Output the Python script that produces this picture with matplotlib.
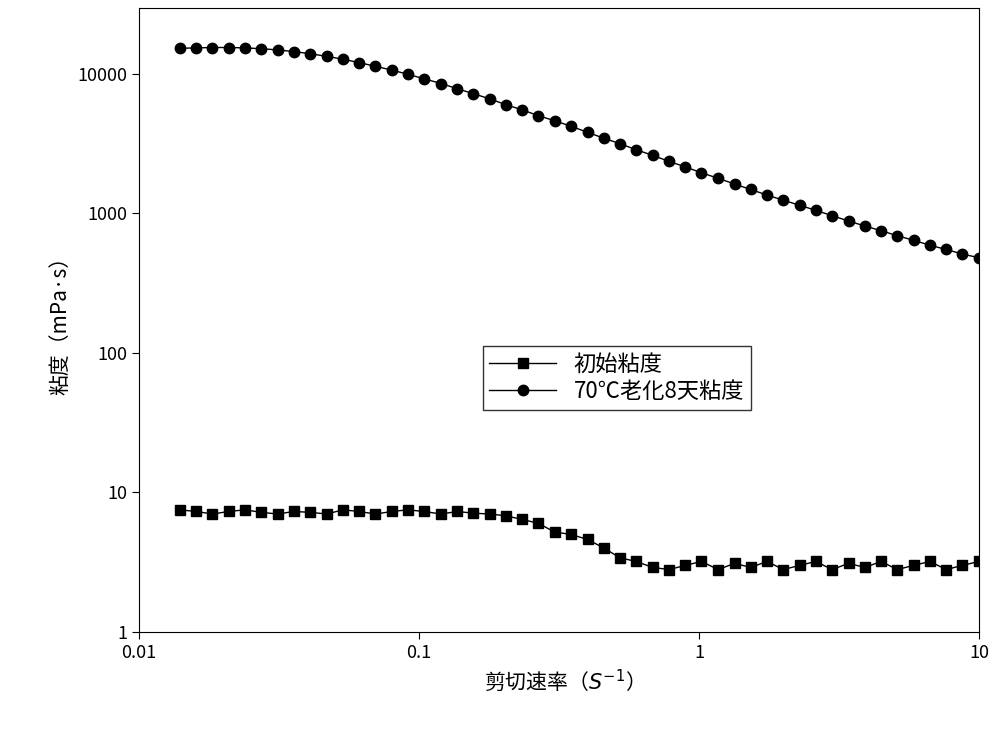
import matplotlib
matplotlib.use("Agg")
import matplotlib.pyplot as plt
from matplotlib import font_manager as fm
from matplotlib.ticker import FixedLocator, NullLocator

cjk = None
for f in fm.findSystemFonts():
    if "CJK" in f and ("SC" in f or "Regular" in f or f.endswith(".ttc")):
        try:
            fm.fontManager.addfont(f)
            name = fm.FontProperties(fname=f).get_name()
            if cjk is None or "SC" in name:
                cjk = name
        except Exception:
            pass
plt.rcParams["font.family"] = [cjk or "Noto Sans CJK SC", "DejaVu Sans"]
plt.rcParams["mathtext.fontset"] = "dejavusans"

shear_rate = [0.0140, 0.0160, 0.0183, 0.0209, 0.0239, 0.0273, 0.0313, 0.0357, 0.0409, 0.0468,
              0.0535, 0.0611, 0.0699, 0.0800, 0.0914, 0.104, 0.120, 0.137, 0.156, 0.179,
              0.204, 0.234, 0.267, 0.305, 0.349, 0.400, 0.457, 0.522, 0.597, 0.683,
              0.782, 0.893, 1.02, 1.17, 1.34, 1.53, 1.75, 2.00, 2.29, 2.61,
              2.99, 3.42, 3.91, 4.47, 5.11, 5.84, 6.68, 7.64, 8.73, 10.0]
initial_visc = [7.5, 7.3, 7.0, 7.3, 7.5, 7.2, 7.0, 7.3, 7.2, 7.0,
                7.5, 7.3, 7.0, 7.3, 7.5, 7.3, 7.0, 7.3, 7.1, 7.0,
                6.8, 6.4, 6.0, 5.2, 5.0, 4.6, 4.0, 3.4, 3.2, 2.9,
                2.8, 3.0, 3.2, 2.8, 3.1, 2.9, 3.2, 2.8, 3.0, 3.2,
                2.8, 3.1, 2.9, 3.2, 2.8, 3.0, 3.2, 2.8, 3.0, 3.2]
aged_visc = [15200, 15300, 15400, 15400, 15300, 15100, 14800, 14400, 13900, 13300,
             12700, 12000, 11300, 10600, 9900, 9200, 8500, 7800, 7200, 6600,
             6000, 5500, 5000, 4600, 4200, 3800, 3450, 3150, 2850, 2600,
             2350, 2150, 1950, 1780, 1620, 1480, 1350, 1240, 1140, 1050,
             960, 880, 810, 750, 690, 640, 590, 550, 510, 480]
labels = ["初始粘度", "70℃老化8天粘度"]
xticks = [0.01, 0.1, 1, 10]
xticklabels = ["0.01", "0.1", "1", "10"]
yticks = [1, 10, 100, 1000, 10000]
yticklabels = ["1", "10", "100", "1000", "10000"]

fig = plt.figure(figsize=(10, 7.34), dpi=100)
ax = fig.add_axes([0.139, 0.139, 0.840, 0.850])
ax.plot(shear_rate, initial_visc, "-s", color="black", lw=1, ms=7, label=labels[0])
ax.plot(shear_rate, aged_visc, "-o", color="black", lw=1, ms=7.5, label=labels[1])
ax.set_xscale("log"); ax.set_yscale("log")
ax.set_xlim(0.01, 10); ax.set_ylim(1, 10**4.47)
ax.xaxis.set_major_locator(FixedLocator(xticks)); ax.set_xticklabels(xticklabels)
ax.yaxis.set_major_locator(FixedLocator(yticks)); ax.set_yticklabels(yticklabels)
ax.xaxis.set_minor_locator(NullLocator()); ax.yaxis.set_minor_locator(NullLocator())
ax.tick_params(labelsize=13, direction="out", length=5)
ax.set_xlabel("剪切速率（$S^{-1}$）", fontsize=15)
ax.set_ylabel("粘度（mPa·s）", fontsize=15)
ax.legend(loc="upper left", bbox_to_anchor=(0.396, 0.476), fontsize=16, frameon=True,
          fancybox=False, edgecolor="black", handlelength=3, borderpad=0.3, labelspacing=0.2)
fig.savefig("out.png", dpi=100)
